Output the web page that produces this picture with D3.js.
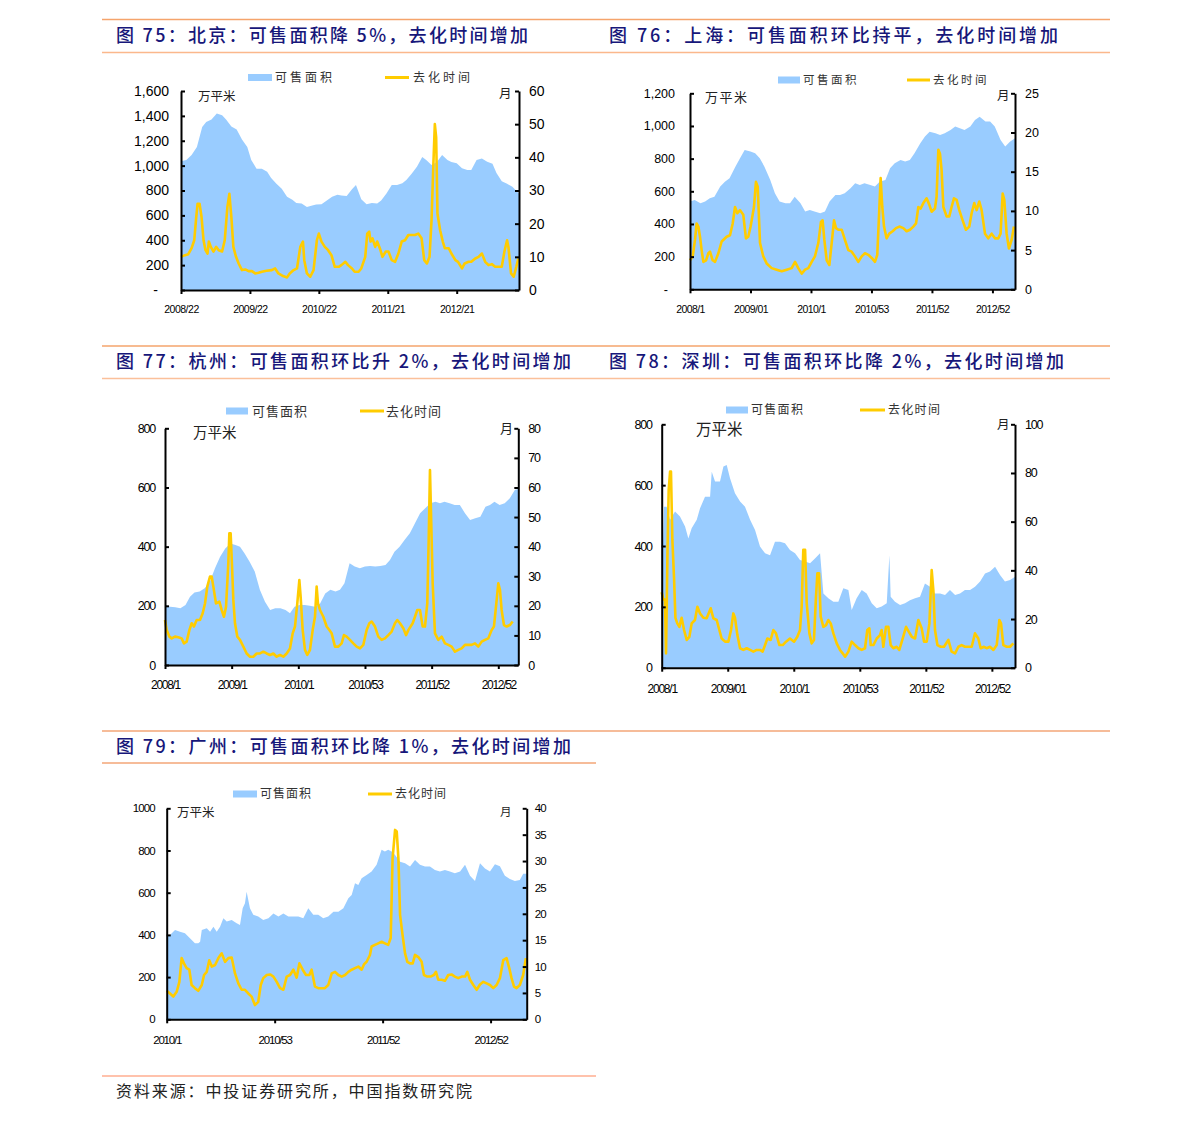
<!DOCTYPE html>
<html><head><meta charset="utf-8">
<script src="https://cdn.jsdelivr.net/npm/d3@7"></script>
<style>body{margin:0;background:#fff}</style>
</head><body>
<script>
// ---------------- DATA ----------------
const titles = [
  "图 75：北京：可售面积降 5%，去化时间增加",
  "图 76：上海：可售面积环比持平，去化时间增加",
  "图 77：杭州：可售面积环比升 2%，去化时间增加",
  "图 78：深圳：可售面积环比降 2%，去化时间增加",
  "图 79：广州：可售面积环比降 1%，去化时间增加"
];
const sourceText = "资料来源：中投证券研究所，中国指数研究院";
const seriesNames = ["可售面积", "去化时间"];
const unitLeft = "万平米", unitRight = "月";

// Beijing (weeks since 2008/22)
const bjXTicks = [0, 52, 104, 156, 208];
const bjXLabels = ["2008/22", "2009/22", "2010/22", "2011/21", "2012/21"];
const bjLeftTicks = [0, 200, 400, 600, 800, 1000, 1200, 1400, 1600];
const bjRightTicks = [0, 10, 20, 30, 40, 50, 60];
const bjAreaPts = [[0,1035],[4,1045],[8,1085],[12,1150],[16,1310],[19,1350],[23,1370],[27,1420],[31,1405],[34,1370],[38,1315],[42,1290],[46,1210],[50,1150],[53,1045],[57,975],[61,975],[65,950],[68,900],[72,855],[76,815],[80,750],[84,725],[87,700],[91,695],[95,668],[99,680],[102,688],[106,690],[110,720],[114,750],[118,765],[121,760],[125,755],[129,810],[132,845],[136,730],[140,690],[144,700],[148,695],[151,720],[155,775],[159,845],[163,845],[167,858],[170,885],[174,935],[178,990],[182,1070],[185,1045],[189,1005],[193,1030],[197,1085],[201,1045],[204,1030],[208,1020],[212,978],[216,965],[219,965],[223,1045],[227,1058],[231,1032],[235,1015],[238,940],[242,875],[246,855],[250,830],[255,775]];
const bjLinePts = [[0,10],[3,10.5],[5.5,10.8],[8,12.6],[10,15],[11.5,22],[12.5,26],[14,26],[15.5,22],[17,15],[18.5,12],[20,11],[21,14.6],[22.5,13],[24.5,11.6],[26.5,13],[28.5,12],[31,11.6],[33,15],[35,25],[36.5,29],[38,22],[39.5,13],[41.5,10],[43.5,8],[46,6],[48.5,6.2],[51,5.7],[53.5,5.7],[56,5],[58.5,5.2],[61,5.5],[64.5,5.8],[68.5,6],[71,6.5],[73.5,5],[77,4.2],[80,3.8],[82,5],[85,6],[87.5,6.5],[90,13],[92,14.6],[93,9],[95,5],[97.5,4],[100,6],[102.5,15],[104,17],[106,14.6],[108.5,13],[111,12],[113.5,10.5],[116,7],[119,7],[121,7.5],[124,8.5],[126,7.5],[129,6.5],[131,5.5],[134,5.5],[136,6.5],[139,10],[140.5,17],[142,17.6],[143,14.6],[144.5,15.6],[146.5,13],[148,14.6],[150,12.6],[152,10],[154.5,11.6],[156.5,11.6],[159,9],[161.5,8.5],[164,11],[166.5,14.6],[169,15],[171.5,16.6],[174,16.6],[176.5,16.6],[179,17],[181.5,15.6],[183.5,9],[185.5,8],[187.5,10],[189,21],[190.5,39],[191.5,50],[192.5,46],[193.5,23],[195.5,18],[197.5,14.6],[199,12.6],[202,12.6],[204,11],[207,9],[209,8.5],[212,6.5],[214,8],[217,8.5],[219,8.5],[222,9.5],[224.5,10],[227,11],[229.5,8.5],[232,7.5],[234.5,7.8],[237,7],[239.5,7],[242,7],[244,11.6],[246,15],[247,13],[249,5],[251,4],[253,7],[254.5,9.5]];

// Shanghai (weeks since 2008/1)
const shXTicks = [0, 52, 104, 156, 208, 260];
const shXLabels = ["2008/1", "2009/01", "2010/1", "2010/53", "2011/52", "2012/52"];
const shLeftTicks = [0, 200, 400, 600, 800, 1000, 1200];
const shRightTicks = [0, 5, 10, 15, 20, 25];
const shAreaPts = [[0,537],[4,547],[9,527],[13,537],[17,557],[21,567],[26,629],[30,659],[34,680],[39,751],[43,802],[47,853],[52,843],[56,833],[60,802],[64,751],[69,669],[73,588],[77,537],[82,527],[86,527],[90,567],[95,527],[99,476],[103,486],[107,476],[112,465],[116,476],[120,537],[125,578],[129,578],[133,588],[138,618],[142,649],[146,639],[150,649],[155,639],[159,629],[163,659],[168,669],[172,741],[176,771],[181,792],[185,782],[189,792],[193,833],[198,894],[202,935],[206,965],[211,955],[215,945],[219,955],[224,976],[228,996],[232,986],[236,976],[241,996],[245,1037],[249,1057],[254,1027],[258,1027],[262,996],[267,914],[271,874],[275,904],[279.4,925]];
const shLinePts = [[0,3.7],[2.3,4.2],[4.3,6.3],[5.7,8.4],[7.2,8],[8.6,6.7],[10,5],[11.5,3.5],[13.8,3.7],[15.8,4.6],[17.2,4.8],[19.5,3.7],[21.5,3.5],[24.4,4.6],[27.2,6.1],[31.5,6.7],[34.4,6.9],[36.7,8.4],[38.7,10.5],[40.7,9.7],[43,10.1],[45.8,9.5],[48.1,6.5],[50.1,6.7],[52.1,8],[55,10.5],[56.7,13.7],[58.2,13.1],[60.2,5.9],[63,4.2],[65.9,3.3],[70.2,2.7],[74.5,2.5],[78.8,2.3],[83.1,2.5],[87.4,2.7],[90.3,3.5],[93.1,2.7],[96,2],[98.9,2.5],[101.7,2.7],[104.6,3.5],[107.4,4.2],[110.3,5.9],[112.6,8.6],[114,8.8],[115.5,6.3],[117.5,3.7],[119.8,3.1],[121.8,5.9],[123.8,8.8],[125.5,7.8],[127.5,7.6],[130.4,7.6],[133.2,6.3],[136.1,5],[139,4.8],[141.8,4.2],[144.7,3.5],[147.6,4.2],[150.4,4.6],[153.3,4.4],[156.2,4],[159,3.5],[161,4.4],[162.7,10.1],[163.9,14.2],[165.3,10.5],[166.8,8],[169,6.5],[171.3,7.1],[174.2,7.4],[177.1,7.8],[180,8],[183.4,7.8],[186.2,7.4],[189.1,7.6],[192,8],[194.3,8.4],[196.3,10.5],[198.3,10.3],[200.6,11],[203.4,11.6],[205.7,10.8],[207.7,9.9],[210.6,10.3],[212,11.8],[213.5,17.8],[214.9,17.3],[216.3,15.2],[217.8,10.5],[220.6,9.3],[222.9,9.3],[224.9,10.5],[226.9,11.6],[229.2,11.4],[231.5,10.1],[234.4,8.8],[237.2,7.6],[240.1,8],[242.1,9.7],[244.4,11],[246.4,10.1],[248.7,11.2],[250.7,10.1],[253.6,7.1],[256.4,6.5],[259.3,7.1],[262.2,6.5],[265,6.5],[267,7.1],[268.8,12.2],[270.2,11.4],[272.2,7.1],[274.2,5.2],[276.5,6.3],[278.5,8]];

// Hangzhou (weeks since 2008/1)
const hzXTicks = [0, 52, 104, 156, 208, 260];
const hzXLabels = ["2008/1", "2009/1", "2010/1", "2010/53", "2011/52", "2012/52"];
const hzLeftTicks = [0, 200, 400, 600, 800];
const hzRightTicks = [0, 10, 20, 30, 40, 50, 60, 70, 80];
const hzAreaPts = [[0,203],[4,197],[8,195],[12,192],[16,203],[19.5,231],[23,245],[27,248],[31,259],[35,282],[39,327],[43,366],[47,394],[51,411],[55,406],[58.5,400],[62,378],[66,349],[70,316],[74,254],[78,214],[82,186],[86,192],[90,192],[94,186],[97.5,175],[101,197],[105,203],[109,203],[113,200],[117,197],[121,208],[125,242],[129,254],[133,248],[136.5,254],[140,276],[144,344],[148,333],[152,327],[156,333],[160,335],[164,333],[168,335],[172,338],[175.5,355],[179,383],[183,400],[187,423],[191,445],[195,479],[199,513],[203,530],[207,547],[211,552],[214.5,547],[218,552],[222,547],[226,541],[230,541],[234,513],[238,490],[242,496],[246,501],[250,535],[253.5,541],[257,552],[261,541],[265,547],[269,564],[273,592],[275.6,594]];
const hzLinePts = [[0,15.2],[1.3,11.8],[3.4,9.6],[5.2,9],[7.8,9.6],[10.4,9.4],[13,9],[14.8,7.3],[16.9,7.9],[19,11.8],[20.8,14.1],[22.6,13],[24.7,15.2],[27.3,15.2],[29.4,17.5],[31.2,20.8],[33,26.5],[35.1,29.9],[36.4,29.9],[37.7,26.5],[39.8,20.8],[42.4,21.4],[44.2,18.6],[46,16.3],[47.6,19.7],[49.4,34.4],[50.2,44.5],[51.2,44.5],[52.3,33.2],[53.3,22],[54.6,14.1],[56.4,9.6],[58.5,8.5],[61.1,6.2],[63.7,3.9],[66.3,2.8],[68.9,2.8],[71.5,3.9],[74.1,3.9],[76.7,4.5],[79.3,3.9],[81.9,3.4],[84.5,3.9],[87.1,2.8],[89.7,3.4],[92.3,2.8],[94.9,3.9],[97.5,5.6],[99.6,10.7],[101.4,13],[103.2,20.8],[104.8,28.7],[105.8,23.1],[107.4,11.8],[109.2,5.1],[111,3.4],[113.1,5.1],[115.2,11.8],[117,16.3],[118.3,26.5],[119.3,20.8],[120.9,18.6],[123.5,16.3],[126.1,13],[128.2,11.8],[130,10.7],[132.6,6.2],[135.2,6.2],[137.8,7.3],[139.6,10.1],[141.7,9.6],[144.3,8.5],[146.9,7.3],[149.5,6.2],[152.1,5.6],[154.7,6.8],[157.3,11.8],[159.4,14.1],[161.2,14.7],[163.8,13],[166.4,9.6],[169,8.5],[171.6,9],[174.2,10.1],[176.8,11.3],[179.4,14.1],[181.2,15.2],[183.3,14.1],[185.9,12.4],[188,10.1],[189.8,11.8],[191.6,13],[193.2,14.1],[195,16.3],[196.8,18.6],[198.9,18.6],[201,13],[202.8,13],[204.6,20.8],[205.7,42.3],[206.7,65.9],[207.7,47.9],[208.8,27.6],[210.6,10.7],[213.2,8.5],[215.8,9.6],[218.4,7.3],[221,6.8],[223.6,6.2],[226.2,4.5],[228.8,5.1],[231.4,5.6],[234,6.8],[236.6,6.8],[239.2,6.8],[241.8,7.3],[244.4,6.2],[247,7.9],[249.6,8.5],[252.2,9],[254.8,11.8],[256.6,13],[258.2,19.7],[260,27.6],[261.3,25.4],[262.6,18.6],[264.4,13.5],[266.5,13],[269.1,13.5],[271.2,14.7]];

// Shenzhen (weeks since 2008/1)
const szXTicks = [0, 52, 104, 156, 208, 260];
const szXLabels = ["2008/1", "2009/01", "2010/1", "2010/53", "2011/52", "2012/52"];
const szLeftTicks = [0, 200, 400, 600, 800];
const szRightTicks = [0, 20, 40, 60, 80, 100];
const szAreaPts = [[0,250],[1.8,529],[3.9,529],[6.6,486],[10.5,513],[14.4,497],[18.4,464],[21,425],[23.6,458],[27.6,486],[30.2,524],[34.1,562],[38.1,562],[39.4,644],[42,612],[45.9,612],[48.6,661],[51.2,666],[53.8,623],[57.7,573],[61.7,546],[65.6,529],[69.6,486],[73.5,453],[77.4,398],[81.4,376],[85.3,370],[89.2,414],[93.2,414],[97.1,409],[101,387],[105,376],[108.9,354],[112.9,349],[116.8,343],[120.7,359],[124.7,376],[127.3,244],[131.2,228],[135.2,217],[139.1,217],[143,261],[147,255],[149.6,190],[153.5,228],[157.5,255],[161.4,244],[165.4,212],[169.3,195],[173.2,201],[177.2,212],[179.3,370],[180.3,233],[183.7,217],[187.7,206],[191.6,212],[195.5,222],[199.5,228],[203.4,233],[207.3,277],[211.3,266],[215.2,244],[219.2,244],[223.1,239],[227,255],[231,239],[234.9,244],[238.8,255],[242.8,255],[246.7,266],[250.7,283],[254.6,310],[258.5,316],[262.5,332],[266.4,305],[270.3,283],[274.3,288],[278.2,299]];
const szLinePts = [[0,31],[1.3,28],[2.6,28],[3.4,5.9],[4.5,45.6],[5.5,73],[6.6,80.6],[7.3,80.6],[8.4,52.5],[9.7,37],[10.8,20.5],[12.3,18.2],[13.9,16.8],[15.7,20.5],[17.6,15.5],[19.7,11.4],[21.8,12.7],[23.6,18.2],[26.2,19.6],[28.1,25],[30.2,22.3],[32.8,20.5],[35.4,20.3],[38.6,24.4],[40.7,20.3],[43.3,19.6],[45.4,15.5],[47.2,12],[49.9,10.7],[52.5,10.7],[54.6,15.5],[56.4,22.3],[57.7,20.5],[59.6,13.4],[61.7,8],[64.3,7.3],[66.9,8],[69.6,7.3],[72.2,6.6],[74.8,7.3],[77.4,7.3],[79.5,6.6],[81.4,9.3],[83.2,12],[85.8,11.4],[87.9,15.5],[90,14.1],[92.7,9.3],[95.3,9.3],[97.9,10.7],[101,12],[104.2,10.7],[106.8,12.7],[108.9,15.5],[110.2,25],[111.5,48.4],[112.9,48.4],[114.2,26.4],[116.3,14.1],[118.1,10],[119.9,11.4],[121.5,29.2],[122.6,38.8],[123.9,38.8],[125.2,21],[127.3,16.8],[129.4,17.5],[131.2,19.6],[133.1,18.2],[135.2,14.1],[137.8,10],[140.4,7.3],[142.5,5.9],[144.4,4.5],[147,6.6],[149.6,10.7],[152.2,9.3],[154.9,8],[157.5,7.3],[160.1,8],[161.9,15.5],[163.5,16.2],[164.6,9.3],[166.7,9.3],[169.3,12],[171.9,13.4],[173.2,15.5],[174.5,8.6],[176.6,16.8],[178.5,16.8],[180.3,9.3],[182.4,8],[185,8.6],[187.1,7.3],[189.8,12],[192.4,16.8],[194.5,14.8],[196.9,12.7],[199.5,12],[202.1,19.6],[204.7,16.2],[206.6,10.7],[208.7,10.7],[210.8,18.2],[212.6,40.1],[213.9,31.9],[215.2,15.5],[217.1,9.3],[219.7,8.6],[222.3,8.6],[225.7,11.4],[228.3,6.6],[231,5.9],[233.6,8.6],[236.2,9.3],[238.8,8.6],[241.5,8.6],[244.1,8.6],[246.7,14.1],[249.3,12],[251.2,8],[253.8,8.6],[255.9,8],[258.5,8.6],[261.2,7.3],[263.8,9.3],[265.9,19.6],[267.2,18.2],[269,9.3],[271.7,8.6],[274.3,8.6],[276.9,10]];

// Guangzhou (weeks since 2010/1)
const gzXTicks = [0, 52, 104, 156];
const gzXLabels = ["2010/1", "2010/53", "2011/52", "2012/52"];
const gzLeftTicks = [0, 200, 400, 600, 800, 1000];
const gzRightTicks = [0, 5, 10, 15, 20, 25, 30, 35, 40];
const gzAreaPts = [[0,392],[1.6,400],[4,423],[6.4,415],[8.8,408],[11.2,384],[13.6,360],[15.2,360],[16.1,368],[16.9,423],[19.3,431],[20.9,415],[22.5,439],[24.1,415],[25.7,439],[27.3,479],[28.9,463],[31.3,471],[33.7,455],[35.3,447],[36.6,526],[37.7,550],[38.5,605],[40.1,526],[41.7,495],[44.1,487],[46.5,471],[49,479],[51.4,502],[53.8,487],[56.2,502],[58.6,487],[61,487],[63.4,487],[65.8,479],[68.2,526],[70.6,495],[73,495],[75.4,479],[77.8,487],[80.3,510],[82.7,510],[85.1,526],[87.5,574],[89.1,589],[90.7,645],[92.3,637],[93.9,668],[96.3,684],[98.7,700],[101.1,732],[103.5,803],[105.1,795],[106.7,803],[108.3,795],[110,779],[112.4,747],[114.8,740],[117.2,724],[119.6,755],[122,732],[124.4,724],[126.8,724],[129.2,708],[131.6,700],[134,708],[136.4,700],[138.8,692],[141.3,700],[143.7,732],[146.1,680],[148.5,655],[150.9,740],[153.3,715],[155.7,700],[158.1,735],[160.5,725],[162.9,680],[165.3,665],[167.7,655],[170.1,660],[171.7,690],[173.4,690]];
const gzLinePts = [[0,5.4],[1.6,4.9],[3.2,4.3],[4.8,5.2],[6.1,7.1],[7.2,11.6],[8.3,10.6],[9.6,9.7],[10.9,9.4],[12,6.5],[13.6,5.9],[15.2,5.4],[16.9,6.5],[18,8.4],[19.3,9],[20.5,11.2],[21.7,10],[23.3,10.3],[24.9,11.6],[26.5,12.5],[28.1,10.9],[29.7,11.6],[31.3,11.7],[32.9,8.7],[34.5,6.8],[36.1,5.6],[37.7,5.6],[39.3,4.9],[40.9,4.3],[42.5,2.7],[44.1,3.3],[45.3,6.5],[46.5,7.8],[48.2,8.4],[49.8,8.5],[51.4,8.1],[53,7.1],[54.6,5.9],[56.2,5.6],[57.8,8.1],[59.4,8.4],[61,9.4],[62.6,7.9],[63.9,10.6],[65.5,9.4],[67.1,8.4],[68.7,8.4],[69.8,9.4],[71.4,6.2],[73,5.9],[74.6,5.9],[76.2,5.9],[77.8,6.5],[79.5,8.7],[81.1,9],[82.7,8.4],[84.3,8.1],[85.9,8.4],[87.5,9],[89.1,9.4],[90.7,9.7],[92.3,10],[93.9,9.4],[95,10.4],[96.3,10.9],[97.9,12.2],[98.7,13.8],[100.3,14.1],[101.9,14.4],[103.5,14.7],[105.1,14.4],[106.7,14.1],[107.9,15.4],[108.8,30.5],[110,35.9],[110.8,35.6],[111.6,30.5],[112.4,19.8],[113.6,16],[114.8,12.5],[115.9,10.9],[117.2,10.6],[118.5,10.6],[119.6,12.2],[121.2,11.8],[122.8,10.9],[123.9,8.4],[125.5,8.1],[127.1,8.1],[128.7,8.4],[129.7,9],[130.8,7.5],[132.4,7.5],[134,7.3],[135.6,8.4],[137.2,8.5],[138.8,8.1],[140.4,7.8],[142.1,8.1],[143.7,8.1],[144.8,9],[146.1,7.5],[147.7,6.5],[149.3,5.6],[150.9,6.6],[152.5,7.1],[154.1,6.8],[155.7,6.5],[157.3,5.9],[158.9,6.5],[160.5,7.8],[162.1,11.2],[163.7,11.6],[165,9.7],[166.1,7.8],[167.3,6.2],[168.5,5.9],[170.1,6.5],[171.7,8.4],[173,11.6]];

// ---------------- LAYOUT ----------------
const W = 1191, H = 1122;
const AREA_COLOR = "#99CCFF", LINE_COLOR = "#FFCC00";
const NUM_FONT = "Arial, 'Liberation Sans', sans-serif";
const CJK_FONT = "'Noto Sans CJK SC', sans-serif";

const svg = d3.select("body").append("svg").attr("width", W).attr("height", H);
svg.append("rect").attr("width", W).attr("height", H).attr("fill", "#fff");

// header / footer rules
const rules = [
  {x1:102, x2:1110, y:19.5, c:"#F5A46C", w:1.6},
  {x1:102, x2:1110, y:52.5, c:"#FBB88C", w:1.6},
  {x1:102, x2:1110, y:346, c:"#F5A46C", w:1.6},
  {x1:102, x2:1110, y:378.5, c:"#FBC09A", w:1.6},
  {x1:102, x2:1110, y:731, c:"#F3A677", w:1.4},
  {x1:102, x2:596, y:763, c:"#F3A677", w:1.6},
  {x1:102, x2:596, y:1076, c:"#FFC2AC", w:2}
];
svg.selectAll("line.rule").data(rules).enter().append("line")
  .attr("x1", d => d.x1).attr("x2", d => d.x2).attr("y1", d => d.y).attr("y2", d => d.y)
  .attr("stroke", d => d.c).attr("stroke-width", d => d.w);

svg.append("text").attr("x", 116).attr("y", 1097).text(sourceText)
  .attr("font-family", CJK_FONT).attr("font-size", 16).attr("fill", "#222")
  .attr("textLength", 356).attr("lengthAdjust", "spacing");

const commaFmt = d3.format(",");
const panels = [
  { title: titles[0], tx:116, ty:42, tlen:412,
    box:{x0:181, x1:519, y0:290, y1:91}, weeks:255,
    area:bjAreaPts, line:bjLinePts, lt:bjLeftTicks, rt:bjRightTicks, xt:bjXTicks, xl:bjXLabels,
    lfmt: d => d === 0 ? "-" : commaFmt(d), zeroDx:-11,
    yFont:14, yLS:0, lpad:12, rpad:10, xFont:10.5, xLS:-0.5, xLabY:19,
    leg:{rx:248, rw:24, cy:77.5, t1:275, f:12, ls:3, lx1:385, lx2:409, t2:413},
    unit:{ux:198, uy:96, uf:12.5, uls:0, mx:499, my:93, mf:12.5} },
  { title: titles[1], tx:609, ty:42, tlen:449,
    box:{x0:690, x1:1015, y0:289.3, y1:93.3}, weeks:279.4,
    area:shAreaPts, line:shLinePts, lt:shLeftTicks, rt:shRightTicks, xt:shXTicks, xl:shXLabels,
    lfmt: d => d === 0 ? "-" : commaFmt(d), zeroDx:-7,
    yFont:12.5, yLS:0, lpad:15, rpad:10, xFont:10.5, xLS:-0.6, xLabY:20,
    leg:{rx:778, rw:22, cy:80, t1:803, f:11.5, ls:2.5, lx1:907, lx2:930, t2:933},
    unit:{ux:705, uy:97, uf:13, uls:1.5, mx:997, my:95, mf:12.5} },
  { title: titles[2], tx:116, ty:368, tlen:455,
    box:{x0:165, x1:518.3, y0:665, y1:428.3}, weeks:275.6,
    area:hzAreaPts, line:hzLinePts, lt:hzLeftTicks, rt:hzRightTicks, xt:hzXTicks, xl:hzXLabels,
    lfmt: d => String(d), zeroDx:0,
    yFont:12.5, yLS:-1.2, lpad:10, rpad:10, xFont:12, xLS:-1.3, xLabY:20,
    leg:{rx:226, rw:22, cy:411, t1:252, f:13, ls:1, lx1:360, lx2:384, t2:386},
    unit:{ux:193, uy:433, uf:14.5, uls:0, mx:500, my:428, mf:13} },
  { title: titles[3], tx:609, ty:368, tlen:455,
    box:{x0:661.7, x1:1015, y0:667.7, y1:424.3}, weeks:278.2,
    area:szAreaPts, line:szLinePts, lt:szLeftTicks, rt:szRightTicks, xt:szXTicks, xl:szXLabels,
    lfmt: d => String(d), zeroDx:0,
    yFont:12.5, yLS:-1.2, lpad:10, rpad:10, xFont:12, xLS:-1.2, xLabY:21,
    leg:{rx:726, rw:22, cy:410, t1:751, f:12, ls:1.3, lx1:860, lx2:885, t2:888},
    unit:{ux:696, uy:429, uf:15.5, uls:0, mx:997, my:424, mf:12.5} },
  { title: titles[4], tx:116, ty:753, tlen:455,
    box:{x0:166.7, x1:526.7, y0:1019.3, y1:808.3}, weeks:173.4,
    area:gzAreaPts, line:gzLinePts, lt:gzLeftTicks, rt:gzRightTicks, xt:gzXTicks, xl:gzXLabels,
    lfmt: d => String(d), zeroDx:0,
    yFont:11.5, yLS:-0.9, lpad:12, rpad:8, xFont:11.5, xLS:-1.2, xLabY:21,
    leg:{rx:233, rw:24, cy:794, t1:260, f:12, ls:1, lx1:368, lx2:392, t2:395},
    unit:{ux:177, uy:812, uf:12.5, uls:0, mx:500, my:812, mf:11.5} }
];

function styleAxis(g, font, ls) {
  g.select(".domain").attr("stroke", "#000").attr("stroke-width", 2);
  g.selectAll(".tick line").attr("stroke", "#000").attr("stroke-width", 2);
  g.selectAll("text").attr("font-family", NUM_FONT).attr("font-size", font)
    .attr("fill", "#000").style("letter-spacing", ls + "px");
}

panels.forEach(p => {
  const g = svg.append("g");
  g.append("text").attr("x", p.tx).attr("y", p.ty).text(p.title)
    .attr("font-family", CJK_FONT).attr("font-size", 18).attr("font-weight", 500)
    .attr("fill", "#17177a").attr("textLength", p.tlen).attr("lengthAdjust", "spacing");

  const b = p.box;
  const x = d3.scaleLinear().domain([0, p.weeks]).range([b.x0, b.x1]);
  const yL = d3.scaleLinear().domain([0, p.lt[p.lt.length - 1]]).range([b.y0, b.y1]);
  const yR = d3.scaleLinear().domain([0, p.rt[p.rt.length - 1]]).range([b.y0, b.y1]);

  g.append("path").datum(p.area)
    .attr("d", d3.area().x(d => x(d[0])).y0(yL(0)).y1(d => yL(d[1])))
    .attr("fill", AREA_COLOR);
  g.append("path").datum(p.line)
    .attr("d", d3.line().x(d => x(d[0])).y(d => yR(d[1])))
    .attr("fill", "none").attr("stroke", LINE_COLOR).attr("stroke-width", 2.6)
    .attr("stroke-linejoin", "round");

  const la = g.append("g").attr("transform", `translate(${b.x0},0)`)
    .call(d3.axisLeft(yL).tickValues(p.lt).tickSize(-4).tickSizeOuter(0)
      .tickPadding(p.lpad).tickFormat(p.lfmt));
  styleAxis(la, p.yFont, p.yLS);
  la.selectAll(".tick text").filter(d => d === 0).attr("dx", p.zeroDx);

  const ra = g.append("g").attr("transform", `translate(${b.x1},0)`)
    .call(d3.axisRight(yR).tickValues(p.rt).tickSize(-4).tickSizeOuter(0)
      .tickPadding(p.rpad));
  styleAxis(ra, p.yFont, p.yLS);

  const xa = g.append("g").attr("transform", `translate(0,${b.y0})`)
    .call(d3.axisBottom(x).tickValues(p.xt).tickSize(4).tickSizeOuter(0)
      .tickFormat((d, i) => p.xl[i]));
  styleAxis(xa, p.xFont, p.xLS);
  xa.selectAll(".tick text").attr("y", p.xLabY).attr("dy", "0.35em");

  // legend
  const L = p.leg;
  g.append("rect").attr("x", L.rx).attr("y", L.cy - 3.5).attr("width", L.rw).attr("height", 7)
    .attr("fill", AREA_COLOR);
  g.append("line").attr("x1", L.lx1).attr("x2", L.lx2).attr("y1", L.cy).attr("y2", L.cy)
    .attr("stroke", LINE_COLOR).attr("stroke-width", 3);
  [[L.t1, seriesNames[0]], [L.t2, seriesNames[1]]].forEach(([tx, s]) => {
    g.append("text").attr("x", tx).attr("y", L.cy).attr("dy", "0.36em").text(s)
      .attr("font-family", CJK_FONT).attr("font-size", L.f).attr("fill", "#333")
      .style("letter-spacing", L.ls + "px");
  });

  const U = p.unit;
  g.append("text").attr("x", U.ux).attr("y", U.uy).attr("dy", "0.36em").text(unitLeft)
    .attr("font-family", CJK_FONT).attr("font-size", U.uf).attr("fill", "#222")
    .style("letter-spacing", U.uls + "px");
  g.append("text").attr("x", U.mx).attr("y", U.my).attr("dy", "0.36em").text(unitRight)
    .attr("font-family", CJK_FONT).attr("font-size", U.mf).attr("fill", "#222");
});
</script>
</body></html>
